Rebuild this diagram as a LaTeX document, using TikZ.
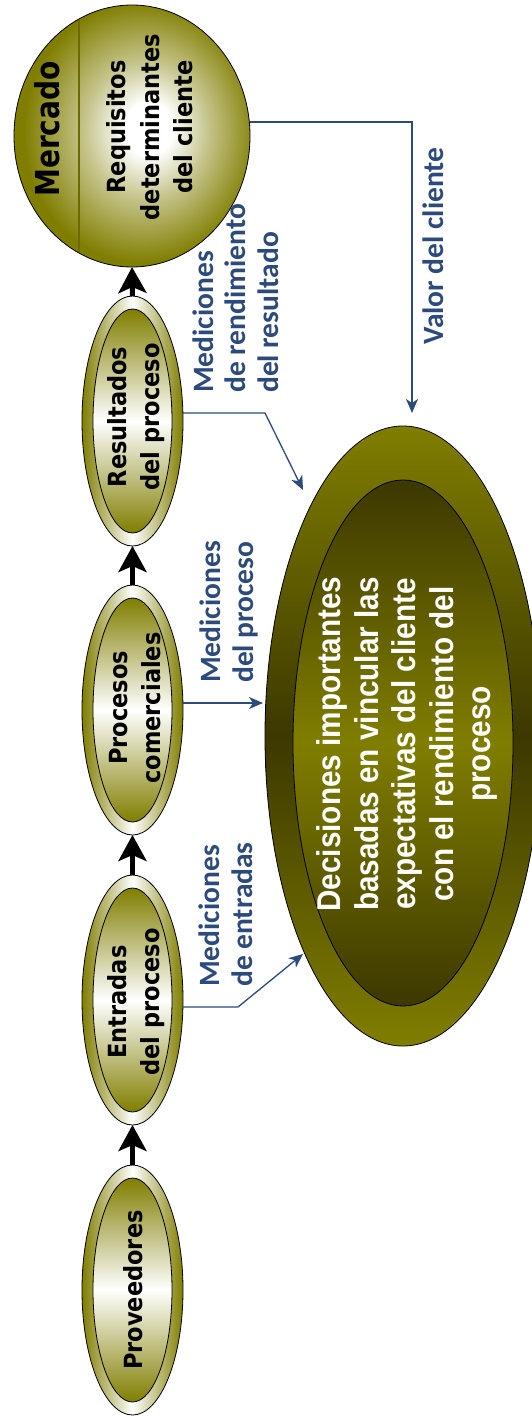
\documentclass[tikz,border=0pt]{standalone}
\usepackage{fontspec}
\usetikzlibrary{arrows.meta,shapes.geometric,calc}

\newfontfamily\ovalfont{DejaVu Sans}[FakeStretch=0.9]
\newfontfamily\notefont{Carlito}
\newfontfamily\corefont{Liberation Sans}[FakeStretch=0.9]
\newfontfamily\brandfont{DejaVu Sans}[FakeStretch=0.85]

\definecolor{olivec}{RGB}{128,126,0}
\definecolor{darkolive}{RGB}{60,56,0}
\definecolor{noteblue}{RGB}{44,74,124}

% soft light spot for the market disc, a little right of its centre
\pgfdeclareradialshading{marketglow}{\pgfpoint{4bp}{1.5bp}}{%
  color(0bp)=(white); color(5bp)=(white); color(13bp)=(white!55!olivec); color(25bp)=(olivec); color(50bp)=(olivec)}

\tikzset{
  ovalring/.style={ellipse, draw=black, line width=0.8pt, inner sep=0pt, outer sep=0pt,
    minimum width=101pt, minimum height=250pt,
    left color=olivec, right color=olivec, middle color=white},
  ovalcore/.style={ellipse, draw=black, line width=0.8pt, inner sep=0pt, outer sep=0pt,
    minimum width=79pt, minimum height=224pt,
    top color=olivec, bottom color=olivec, middle color=white},
  ovaltext/.style={rotate=90, align=center, inner sep=0pt, text=black,
    font=\ovalfont\bfseries\fontsize{25}{32.5}\selectfont},
  flowarrow/.style={line width=5pt, -{Stealth[length=26pt,width=28pt,inset=6pt]}},
  notearrow/.style={draw=noteblue, line width=1.3pt, -{Stealth[length=14pt,width=12pt,inset=4pt]}},
  notetext/.style={rotate=90, align=left, anchor=west, inner sep=0pt, text=noteblue,
    font=\notefont\bfseries\fontsize{29.5}{32.5}\selectfont},
}

\begin{document}
\begin{tikzpicture}[x=1pt,y=-1pt]
\useasboundingbox (0,0) rectangle (532,1416);

% ---- process chain ----
\node[ovalring] (prov) at (132.5,1290) {};
\node[ovalcore] (provc) at (132.5,1290) {};
\node[ovaltext] (provt) at (133,1290) {Proveedores};

\node[ovalring] (ent) at (132.5,1000) {};
\node[ovalcore] (entc) at (132.5,1000) {};
\node[ovaltext] (entt) at (136,1002) {Entradas\\del proceso};

\node[ovalring] (proc) at (132.5,710) {};
\node[ovalcore] (procc) at (132.5,710) {};
\node[ovaltext] (proct) at (135,708) {Procesos\\comerciales};

\node[ovalring] (res) at (132.5,421) {};
\node[ovalcore] (resc) at (132.5,421) {};
\node[ovaltext] (rest) at (136,417) {Resultados\\del proceso};

% ---- market disc ----
\node[ellipse, draw=black, line width=0.8pt, inner sep=0pt, outer sep=0pt,
  minimum width=236pt, minimum height=262pt, shading=marketglow] (mkt) at (132,136) {};
\draw[olivec!85!black, line width=2pt] (79,20) -- (79,252);
\node[rotate=90, inner sep=0pt, text=black,
  font=\brandfont\bfseries\fontsize{33}{33}\selectfont] (mktlabel) at (47,129) {Mercado};
\node[ovaltext, font=\ovalfont\bfseries\fontsize{25}{33.5}\selectfont] (mkttext) at (150,127)
  {Requisitos\\determinantes\\del cliente};

% ---- decision ellipse ----
\node[ellipse, draw=black, line width=0.8pt, inner sep=0pt, outer sep=0pt,
  minimum width=276pt, minimum height=620pt,
  top color=olivec, bottom color=olivec, middle color=darkolive] (dec) at (403,736) {};
\node[ellipse, draw=black, line width=0.8pt, inner sep=0pt, outer sep=0pt,
  minimum width=220pt, minimum height=526pt,
  top color=darkolive, bottom color=darkolive, middle color=olivec] (decc) at (403,743) {};
\node[rotate=90, align=center, inner sep=0pt, text=white,
  font=\corefont\bfseries\fontsize{33}{37.5}\selectfont] (dect) at (407,744)
  {Decisiones importantes\\basadas en vincular las\\expectativas del cliente\\con el rendimiento del\\proceso};

% ---- flow arrows ----
\draw[flowarrow] (prov.north) -- (ent.south);
\draw[flowarrow] (ent.north) -- (proc.south);
\draw[flowarrow] (proc.north) -- (res.south);
\draw[flowarrow] (res.north) -- (mkt.south);

% ---- measurement links ----
\coordinate (valtip) at (412,413);
\coordinate (restip) at (303,490);
\coordinate (proctip) at (263,703);
\coordinate (enttip) at (303,954);

\draw[notearrow] ([yshift=14pt]mkt.east) -| (valtip);
\draw[notearrow] ([yshift=8pt]res.east) -- ++(82,0) -- (restip);
\draw[notearrow] ([yshift=7pt]proc.east) -- (proctip);
\draw[notearrow] ([yshift=-7pt]ent.east) -- ++(55,0) -- (enttip);

\node[notetext] (valnote) at (433,345) {Valor del cliente};
\node[notetext] (resnote) at (235.5,393) {Mediciones\\de rendimiento\\del resultado};
\node[notetext] (procnote) at (229,683) {Mediciones\\del proceso};
\node[notetext] (entnote) at (226,987) {Mediciones\\de entradas};

\end{tikzpicture}
\end{document}
